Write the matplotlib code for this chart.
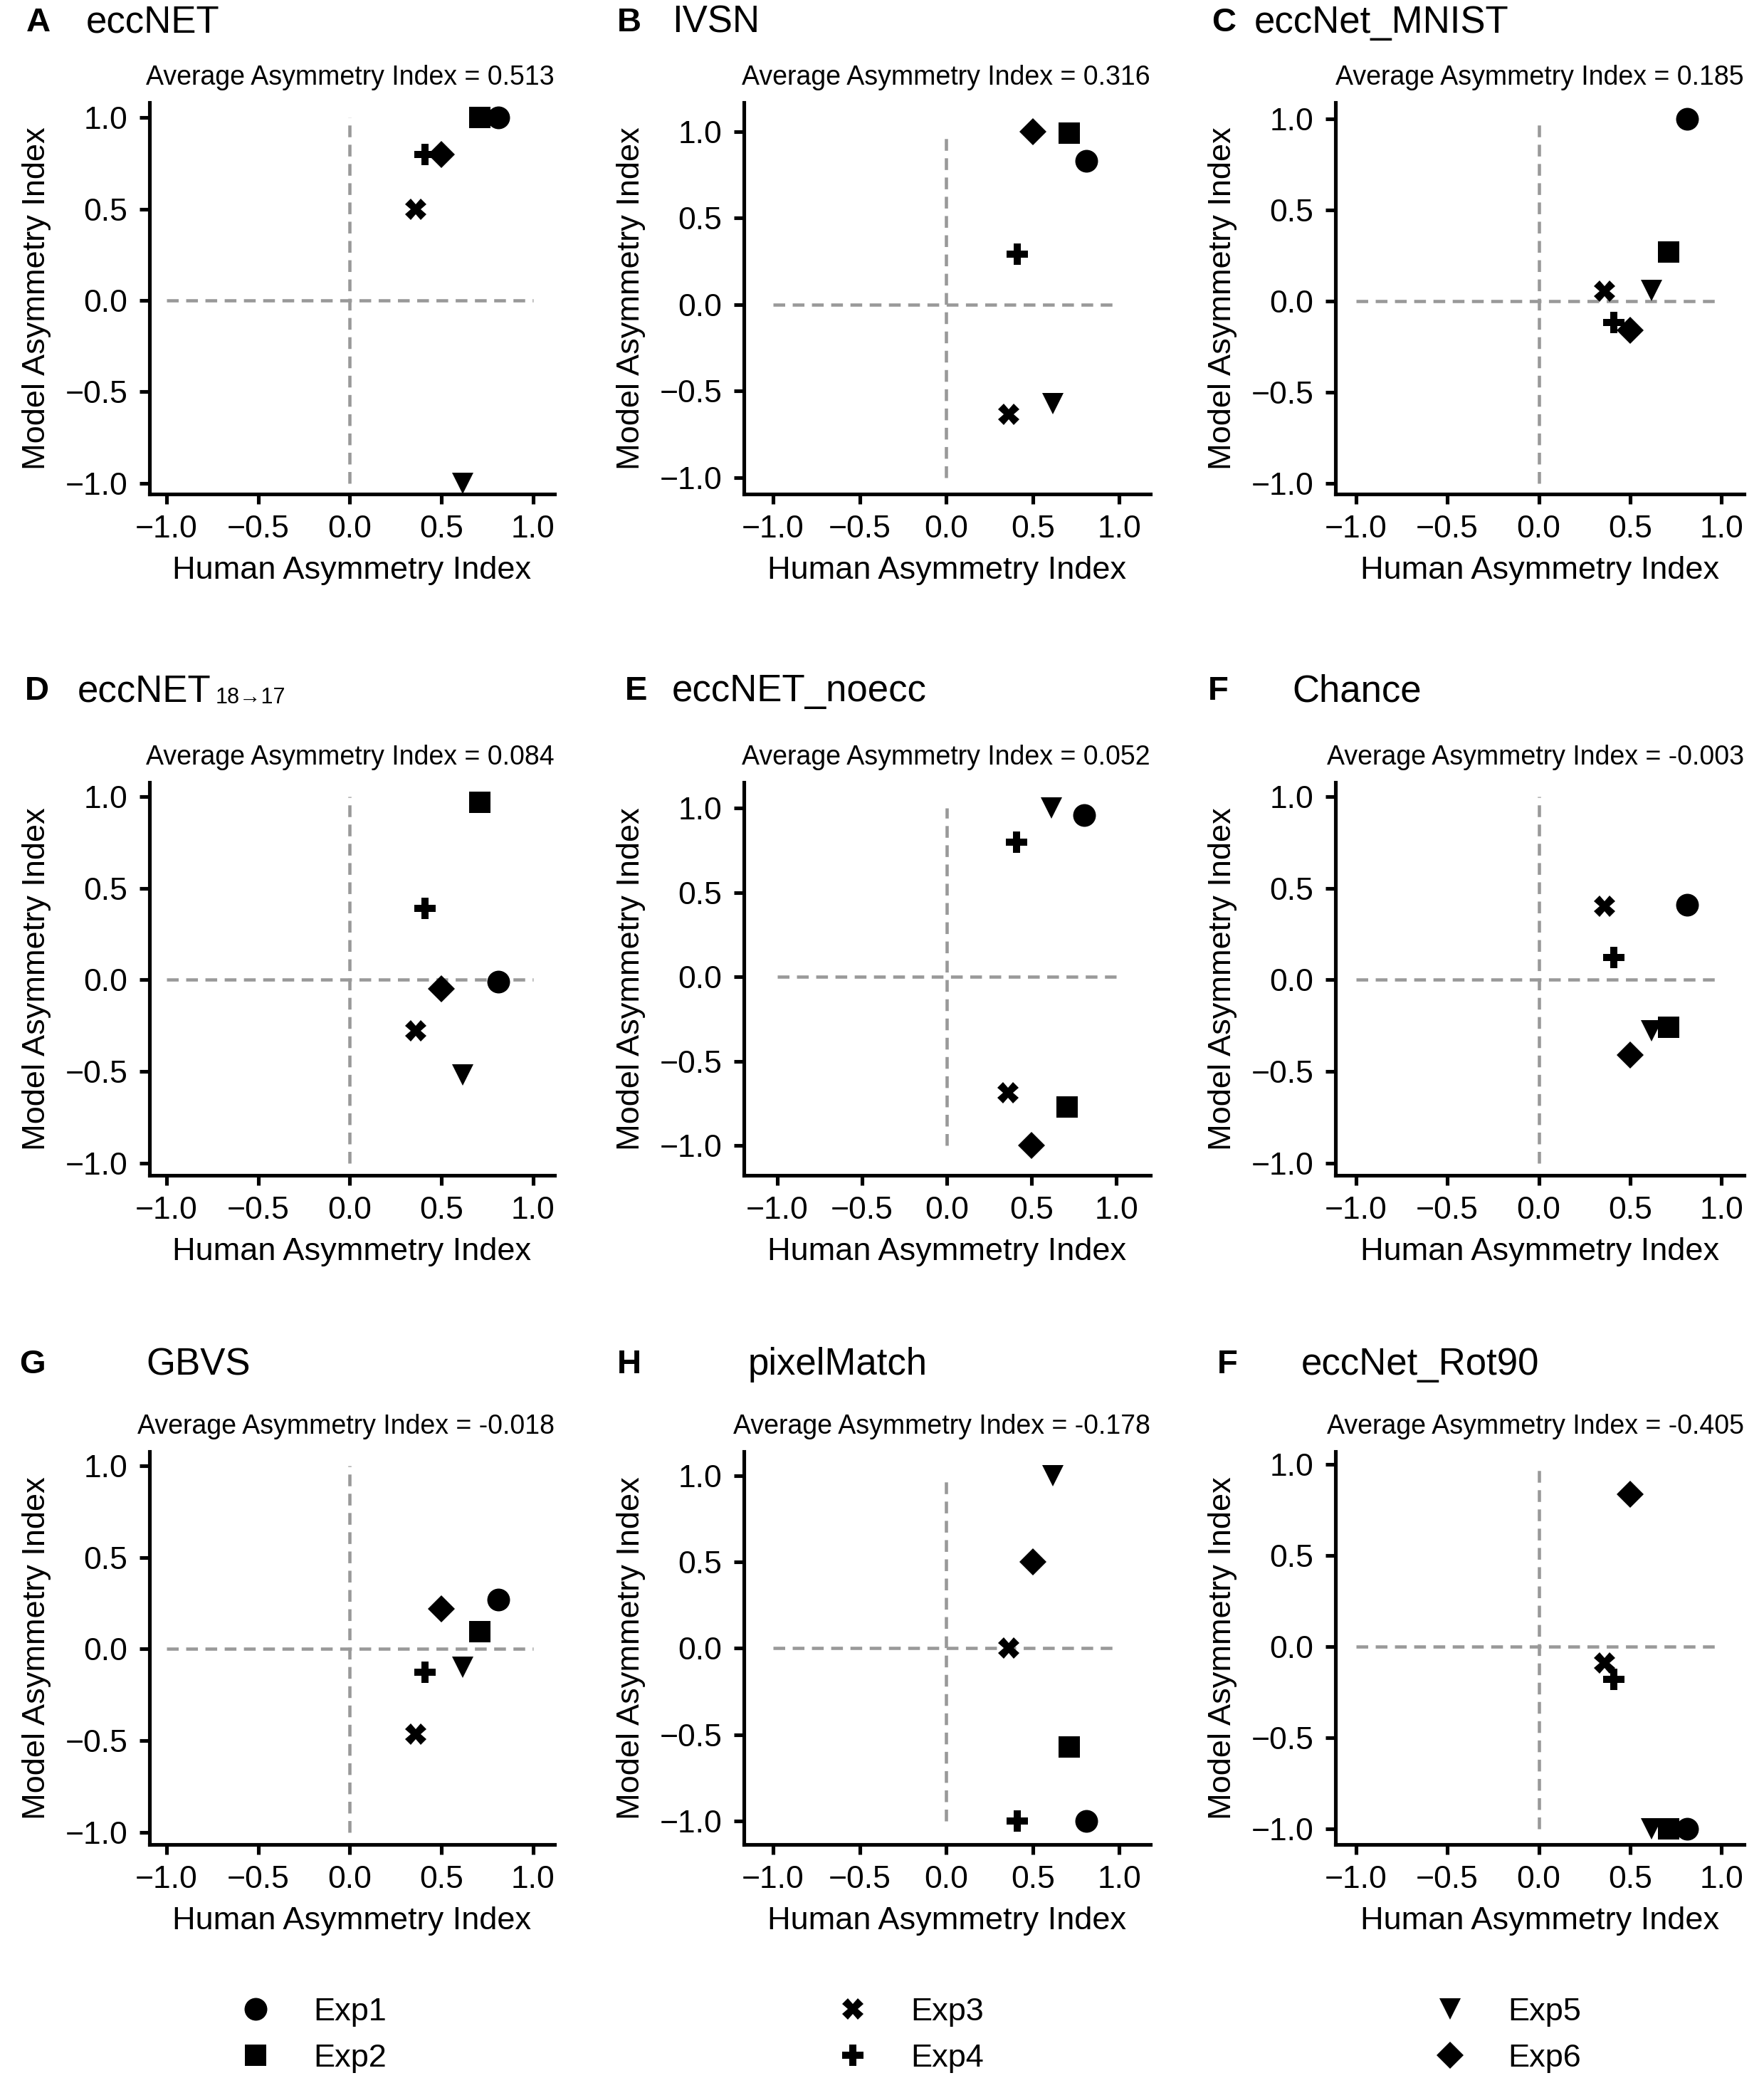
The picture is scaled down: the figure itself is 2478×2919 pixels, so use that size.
import numpy as np
import matplotlib
matplotlib.use("Agg")
import matplotlib.pyplot as plt
from matplotlib.lines import Line2D

plt.rcParams['font.family'] = ['Liberation Sans', 'DejaVu Sans']

# human asymmetry index per experiment (same in every panel)
experiments = ["Exp1", "Exp2", "Exp3", "Exp4", "Exp5", "Exp6"]
human_ai = [0.81, 0.71, 0.36, 0.41, 0.615, 0.50]

# model asymmetry index per panel, order Exp1..Exp6
model_eccnet = [1.0, 1.0, 0.50, 0.80, -1.0, 0.80]
model_ivsn = [0.83, 0.99, -0.635, 0.29, -0.575, 1.0]
model_mnist = [1.0, 0.27, 0.055, -0.115, 0.06, -0.16]
model_1817 = [-0.01, 0.97, -0.28, 0.39, -0.52, -0.05]
model_noecc = [0.96, -0.77, -0.685, 0.80, 1.0, -1.0]
model_chance = [0.41, -0.26, 0.40, 0.12, -0.28, -0.41]
model_gbvs = [0.27, 0.095, -0.465, -0.127, -0.10, 0.22]
model_pixel = [-1.0, -0.57, 0.0, -1.0, 1.0, 0.5]
model_rot90 = [-1.0, -1.0, -0.09, -0.18, -1.0, 0.835]

letters = ["A", "B", "C", "D", "E", "F", "G", "H", "F"]
titles = ["eccNET", "IVSN", "eccNet_MNIST", "eccNET", "eccNET_noecc",
          "Chance", "GBVS", "pixelMatch", "eccNet_Rot90"]
averages = ["0.513", "0.316", "0.185", "0.084", "0.052",
            "-0.003", "-0.018", "-0.178", "-0.405"]
models = [model_eccnet, model_ivsn, model_mnist, model_1817, model_noecc,
          model_chance, model_gbvs, model_pixel, model_rot90]

# layout (pixels of a 2478 x 2919 figure)
W, H = 2478, 2919
col_left = [210, 1045, 1876]
col_right = [779, 1616, 2450]
row_top = [144, 1099, 2039]
row_bottom = [694, 1651, 2591]
letter_x = [37, 867, 1702, 35, 878, 1697, 27, 867, 1710]
title_x = [121, 944, 1762, 109, 944, 1815, 205, 1051, 1828]
title_y = [32, 971, 1917]
xlims = [(-1.093, 1.117), (-1.169, 1.18), (-1.112, 1.123),
         (-1.093, 1.117), (-1.197, 1.20), (-1.112, 1.123),
         (-1.093, 1.117), (-1.169, 1.18), (-1.112, 1.123)]
ylims = [(-1.06, 1.083), (-1.096, 1.168), (-1.059, 1.091),
         (-1.068, 1.078), (-1.176, 1.153), (-1.068, 1.078),
         (-1.068, 1.078), (-1.134, 1.138), (-1.085, 1.07)]

markers = ['o', 's', 'X', 'P', 'v', 'D']
msizes = [23, 21, 21, 22, 22, 19]
ticklabels = ["\u22121.0", "\u22120.5", "0.0", "0.5", "1.0"]

fig = plt.figure(figsize=(W / 100, H / 100), dpi=100)

for i, vals in enumerate(models):
    r, c = divmod(i, 3)
    ax = fig.add_axes([col_left[c] / W, 1 - row_bottom[r] / H,
                       (col_right[c] - col_left[c]) / W,
                       (row_bottom[r] - row_top[r]) / H])
    ax.plot([-1, 1], [0, 0], color='#999999', lw=3.3, dashes=(3.6, 2.3), zorder=1)
    ax.plot([0, 0], [-1, 1], color='#999999', lw=3.3, dashes=(3.6, 2.3), zorder=1)
    for j in range(len(experiments)):
        ax.plot(human_ai[j], vals[j], linestyle='none', marker=markers[j],
                markersize=msizes[j], color='black', markeredgewidth=0,
                zorder=3, clip_on=False)
    ax.set_xlim(*xlims[i])
    ax.set_ylim(*ylims[i])
    ax.set_xticks([-1, -0.5, 0, 0.5, 1])
    ax.set_yticks([-1, -0.5, 0, 0.5, 1])
    ax.set_xticklabels(ticklabels)
    ax.set_yticklabels(ticklabels)
    for s in ['top', 'right']:
        ax.spines[s].set_visible(False)
    for s in ['left', 'bottom']:
        ax.spines[s].set_linewidth(3.7)
    ax.tick_params(width=3.7, length=10, labelsize=32)
    ax.tick_params(axis='x', pad=11)
    ax.tick_params(axis='y', pad=12)
    ax.set_xlabel("Human Asymmetry Index", fontsize=32.5, labelpad=12)
    ax.set_ylabel("Model Asymmetry Index", fontsize=32.5, labelpad=14)
    ax.text(1.0, 1.0 + 35 / (row_bottom[r] - row_top[r]),
            "Average Asymmetry Index = " + averages[i],
            transform=ax.transAxes, ha='right', va='center', fontsize=27)
    fig.text(letter_x[i] / W, 1 - title_y[r] / H, letters[i],
             fontsize=34, fontweight='bold', va='center', ha='left')
    t = fig.text(title_x[i] / W, 1 - title_y[r] / H, titles[i],
                 fontsize=38, va='center', ha='left')
    if i == 3:
        fig.canvas.draw()
        bb = t.get_window_extent()
        fig.text(bb.x1 / W + 6 / W, 1 - (title_y[r] + 9) / H, "18\u219217",
                 fontsize=22, va='center', ha='left')

handles = [Line2D([], [], linestyle='none', marker=markers[j], markersize=msizes[j],
                  color='black', markeredgewidth=0) for j in range(6)]
fig.legend(handles, experiments, ncol=3, loc='center',
           bbox_to_anchor=(0.516, 0.0206), frameon=False, fontsize=32.5,
           handlelength=1.0, handletextpad=1.3, columnspacing=14.0,
           labelspacing=0.52)

fig.savefig("out.png", dpi=100)
